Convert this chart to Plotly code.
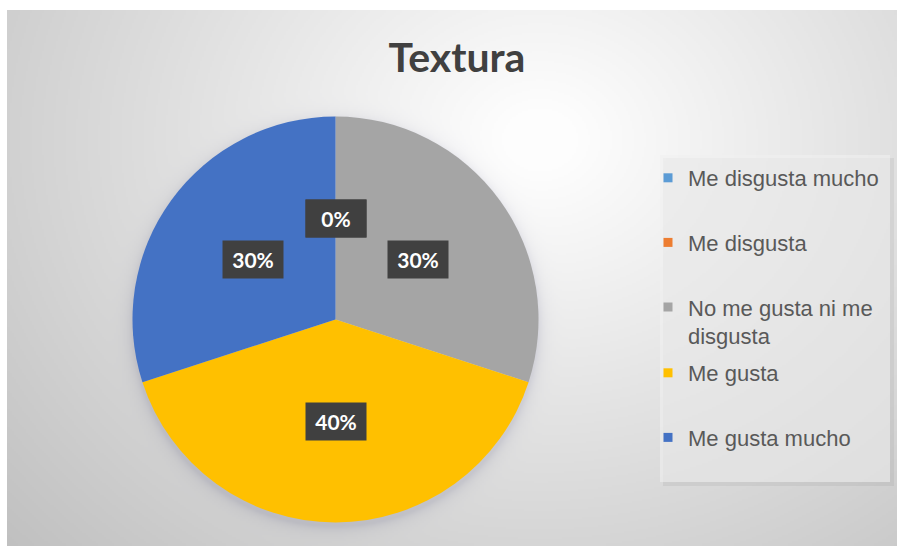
import base64, struct, zlib, math, textwrap
import numpy as np
import plotly.graph_objects as go

# ---- data ----
labels = ["Me disgusta mucho", "Me disgusta", "No me gusta ni me disgusta", "Me gusta", "Me gusta mucho"]
values = [0, 0, 3, 4, 3]
colors = ["#5B9BD5", "#ED7D31", "#A5A5A5", "#FFC000", "#4472C4"]
title_text = "Textura"

# ---- layout constants (pixels) ----
W, H = 897, 547
PIE_CX, PIE_CY, PIE_R = 335.5, 319.5, 203.0
LABEL_R = 0.5 * PIE_R


def png_uri(arr):
    h, w, _ = arr.shape
    raw = b"".join(b"\x00" + arr[i].tobytes() for i in range(h))

    def chunk(t, d):
        return struct.pack(">I", len(d)) + t + d + struct.pack(">I", zlib.crc32(t + d) & 0xFFFFFFFF)

    png = (b"\x89PNG\r\n\x1a\n" + chunk(b"IHDR", struct.pack(">IIBBBBB", w, h, 8, 2, 0, 0, 0))
           + chunk(b"IDAT", zlib.compress(raw, 9)) + chunk(b"IEND", b""))
    return "data:image/png;base64," + base64.b64encode(png).decode()


# background radial gradient (chart area 7..897 x 10..546) with soft pie shadow
BX0, BY0, BX1, BY1 = 7, 10, 897, 546
gw, gh = (BX1 - BX0) // 2, (BY1 - BY0) // 2
xs = BX0 + (np.arange(gw) + 0.5) * (BX1 - BX0) / gw
ys = BY0 + (np.arange(gh) + 0.5) * (BY1 - BY0) / gh
XX, YY = np.meshgrid(xs, ys)
d = np.sqrt(((XX - 540) / 560) ** 2 + ((YY - 140) / 470) ** 2)
val = np.clip(254 - 50 * np.clip(d - 0.05, 0, None), 185, 255)
dist = np.sqrt((XX - PIE_CX) ** 2 + (YY - PIE_CY - 4) ** 2) - PIE_R
shadow = 22 * np.exp(-np.clip(dist, 0, None) / 6.0)
val = val - shadow
grad = np.stack([val, val, val + shadow * 0.3], axis=2).clip(0, 255).astype(np.uint8)
bg_src = png_uri(grad)

fig = go.Figure()

fig.add_trace(go.Pie(
    labels=labels, values=values, sort=False, direction="clockwise", rotation=0,
    marker=dict(colors=colors, line=dict(width=0)),
    textinfo="none", showlegend=False, hoverinfo="label+percent",
    domain=dict(x=[(PIE_CX - PIE_R) / W, (PIE_CX + PIE_R) / W],
                y=[1 - (PIE_CY + PIE_R) / H, 1 - (PIE_CY - PIE_R) / H]),
))

# legend entries (dummy marker traces), split over two legends for even spacing
for i, (lab, col) in enumerate(zip(labels, colors)):
    disp = "<br>".join(textwrap.wrap(lab, 18))
    fig.add_trace(go.Scatter(
        x=[None], y=[None], mode="markers", name=disp,
        marker=dict(symbol="square", size=9, color=col),
        legendgroup=f"g{i}", legend="legend" if i < 3 else "legend2",
    ))

# data labels computed from values
total = sum(values)
annotations = []
cum = 0
for v in values:
    mid = (cum + v / 2) / total
    cum += v
    th = 2 * math.pi * mid
    px = PIE_CX + LABEL_R * math.sin(th)
    py = PIE_CY - LABEL_R * math.cos(th)
    annotations.append(dict(
        x=px / W, y=1 - py / H, xref="paper", yref="paper", showarrow=False,
        xanchor="center", yanchor="middle",
        text=f"{100 * v / total:.0f}%", font=dict(family="Lato", size=21, color="white", weight="bold"),
        bgcolor="#404040", width=52, height=29, borderpad=4,
    ))

legend_common = dict(
    bgcolor="rgba(0,0,0,0)", font=dict(family="Liberation Sans", size=22, color="#595959"),
    tracegroupgap=33, valign="top", xanchor="left", yanchor="top", itemwidth=30,
)

fig.update_layout(
    width=W, height=H, margin=dict(l=0, r=0, t=0, b=0),
    paper_bgcolor="white", plot_bgcolor="rgba(0,0,0,0)",
    xaxis=dict(visible=False), yaxis=dict(visible=False),
    title=dict(text=title_text, x=457 / W, xanchor="center", y=1 - 58 / H, yanchor="middle",
               yref="container", font=dict(family="Lato", size=41, color="#404040", weight="bold")),
    legend=dict(x=648 / W, y=1 - 157 / H, **legend_common),
    legend2=dict(x=648 / W, y=1 - 352 / H, **legend_common),
    annotations=annotations,
    images=[dict(source=bg_src, xref="paper", yref="paper", x=BX0 / W, y=1 - BY0 / H,
                 sizex=(BX1 - BX0) / W, sizey=(BY1 - BY0) / H, xanchor="left", yanchor="top",
                 sizing="stretch", layer="below")],
    shapes=[
        dict(type="rect", xref="paper", yref="paper", x0=663 / W, x1=894 / W, y0=1 - 486 / H, y1=1 - 158 / H,
             fillcolor="rgba(0,0,0,0.05)", line=dict(width=0), layer="below"),
        dict(type="rect", xref="paper", yref="paper", x0=660 / W, x1=890 / W, y0=1 - 482 / H, y1=1 - 155 / H,
             fillcolor="rgba(240,240,240,0.6)", line=dict(width=0), layer="below"),
    ],
)

fig.write_html("out.html")
